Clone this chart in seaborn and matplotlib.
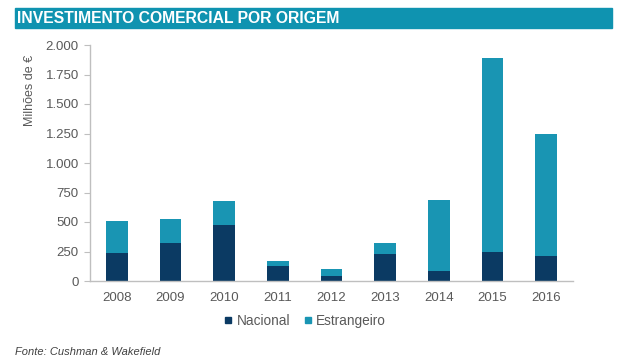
import matplotlib
matplotlib.use("Agg")
import matplotlib.pyplot as plt
import seaborn as sns
import pandas as pd
from matplotlib.patches import Rectangle
from matplotlib.lines import Line2D

# data (milhoes de euros)
anos = ["2008", "2009", "2010", "2011", "2012", "2013", "2014", "2015", "2016"]
nacional = [236, 318, 477, 123, 41, 227, 83, 244, 216]
estrangeiro = [271, 210, 198, 45, 62, 97, 600, 1642, 1030]

cor_nac = "#0b3a63"
cor_est = "#1995b3"
cinza = "#595959"

df = pd.DataFrame({"Ano": anos, "Nacional": nacional, "Estrangeiro": estrangeiro})
df["Total"] = df["Nacional"] + df["Estrangeiro"]

sns.set_style("white")
plt.rcParams["font.family"] = ["Liberation Sans", "DejaVu Sans"]

fig = plt.figure(figsize=(6.33, 3.61), dpi=100)
ax = fig.add_axes([90 / 633, 1 - 281 / 361, 483 / 633, 236 / 361])

# stacked bars: total first, nacional on top of it
sns.barplot(data=df, x="Ano", y="Total", color=cor_est, width=0.4, saturation=1,
            linewidth=0, edgecolor="none", ax=ax)
sns.barplot(data=df, x="Ano", y="Nacional", color=cor_nac, width=0.4, saturation=1,
            linewidth=0, edgecolor="none", ax=ax)

ax.set_xlim(-0.5, 8.5)
ax.set_ylim(0, 2000)
ax.set_yticks(range(0, 2001, 250))
ax.set_yticklabels([f"{v:,}".replace(",", ".") for v in range(0, 2001, 250)])
ax.set_xlabel("")
ax.set_ylabel("")
for s in ["top", "right"]:
    ax.spines[s].set_visible(False)
for s in ["left", "bottom"]:
    ax.spines[s].set_color("#bfbfbf")
    ax.spines[s].set_linewidth(1)
ax.tick_params(axis="y", length=4, color="#bfbfbf", labelsize=9.5, labelcolor=cinza, pad=4, left=True)
ax.tick_params(axis="x", length=0, labelsize=9.5, labelcolor=cinza, pad=8)

fig.text(30 / 633, 1 - 90 / 361, "Milhões de €", rotation=90, ha="center", va="center",
         fontsize=9, color=cinza)

# title bar
fig.patches.append(Rectangle((15 / 633, 1 - 28 / 361), 597 / 633, 20 / 361,
                             transform=fig.transFigure, color="#0f93b0", zorder=0))
fig.text(17 / 633, 1 - 18.5 / 361, "INVESTIMENTO COMERCIAL POR ORIGEM", ha="left", va="center",
         fontsize=11.3, fontweight="bold", color="white")

handles = [Line2D([], [], marker="s", linestyle="", color=cor_nac, markersize=5),
           Line2D([], [], marker="s", linestyle="", color=cor_est, markersize=5)]
fig.legend(handles, ["Nacional", "Estrangeiro"], loc="center", bbox_to_anchor=(305 / 633, 1 - 321 / 361),
           ncol=2, frameon=False, fontsize=9.8, handlelength=0.6, handletextpad=0.3,
           columnspacing=1.0, labelcolor=cinza)

fig.text(15 / 633, 1 - 352 / 361, "Fonte: Cushman & Wakefield", ha="left", va="center",
         fontsize=8, fontstyle="italic", color="#404040")

fig.savefig("out.png", dpi=100)
